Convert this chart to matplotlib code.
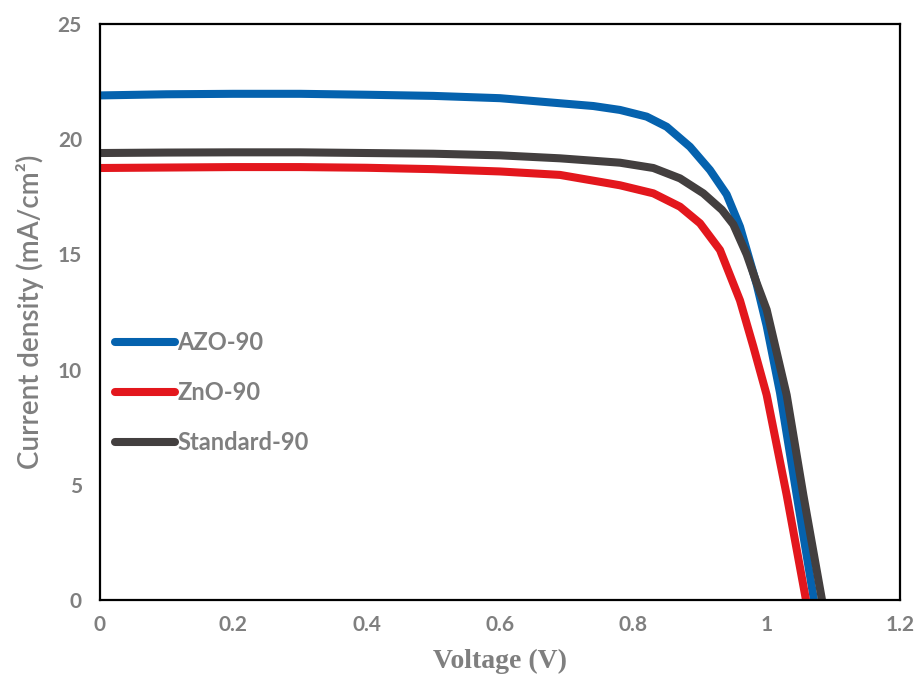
import matplotlib.pyplot as plt

# J-V data
v_azo = [0, 0.1, 0.2, 0.3, 0.4, 0.5, 0.6, 0.69, 0.74, 0.78, 0.82, 0.85, 0.885, 0.915, 0.94,
         0.96, 0.973, 0.985, 1.0, 1.02, 1.045, 1.071]
j_azo = [21.9, 21.95, 21.97, 21.97, 21.93, 21.88, 21.78, 21.56, 21.44, 21.27, 20.98, 20.54, 19.67,
         18.66, 17.6, 16.2, 14.9, 13.7, 11.9, 9.0, 4.56, 0]

v_zno = [0, 0.1, 0.2, 0.3, 0.4, 0.5, 0.6, 0.69, 0.78, 0.83, 0.87, 0.9, 0.93, 0.96, 0.98,
         1.0, 1.03, 1.059]
j_zno = [18.75, 18.77, 18.79, 18.79, 18.76, 18.7, 18.6, 18.45, 18.0, 17.65, 17.07, 16.35, 15.19,
         13.0, 11.0, 8.9, 4.56, 0]

v_std = [0, 0.1, 0.2, 0.3, 0.4, 0.5, 0.6, 0.69, 0.78, 0.83, 0.87, 0.905, 0.933, 0.95, 0.97,
         0.985, 1.0, 1.03, 1.055, 1.083]
j_std = [19.4, 19.42, 19.43, 19.43, 19.4, 19.37, 19.3, 19.17, 18.98, 18.75, 18.3, 17.65, 16.93,
         16.3, 15.0, 13.76, 12.6, 8.9, 4.56, 0]

x_ticks = [0, 0.2, 0.4, 0.6, 0.8, 1.0, 1.2]
x_tick_labels = ['0', '0.2', '0.4', '0.6', '0.8', '1', '1.2']
y_ticks = [0, 5, 10, 15, 20, 25]

gray = '#7f7f7f'

fig = plt.figure(figsize=(9.16, 6.75), dpi=100)
ax = fig.add_axes([100 / 916, 75 / 675, 800 / 916, 576 / 675])

lw = 5.8
ax.plot(v_azo, j_azo, color='#0562ae', lw=lw, label='AZO-90', solid_capstyle='round')
ax.plot(v_zno, j_zno, color='#e3171d', lw=lw, label='ZnO-90', solid_capstyle='round')
ax.plot(v_std, j_std, color='#433f3f', lw=lw, label='Standard-90', solid_capstyle='round')

ax.set_xlim(0, 1.2)
ax.set_ylim(0, 25)
ax.set_xticks(x_ticks)
ax.set_xticklabels(x_tick_labels)
ax.set_yticks(y_ticks)
ax.tick_params(length=0, labelsize=15, labelcolor=gray)
ax.tick_params(axis='x', pad=11)
ax.tick_params(axis='y', pad=13)
for lab in ax.get_xticklabels() + ax.get_yticklabels():
    lab.set_fontweight('bold')
    lab.set_family('Lato')

for s in ax.spines.values():
    s.set_linewidth(1.6)
    s.set_color('black')

ax.set_xlabel('Voltage (V)', family='Liberation Serif', fontweight='bold',
              fontsize=20, color=gray, labelpad=10)
ax.set_ylabel('Current density (mA/cm²)', family='Lato', fontweight='semibold',
              fontsize=20, color=gray, labelpad=10)

leg = ax.legend(loc='center left', bbox_to_anchor=(-0.008, 0.36), frameon=False,
                handlelength=2.55, handletextpad=0.1, labelspacing=1.15,
                prop={'family': 'Lato', 'weight': 'bold', 'size': 17})
for t in leg.get_texts():
    t.set_color(gray)

fig.savefig('out.png', dpi=100)
